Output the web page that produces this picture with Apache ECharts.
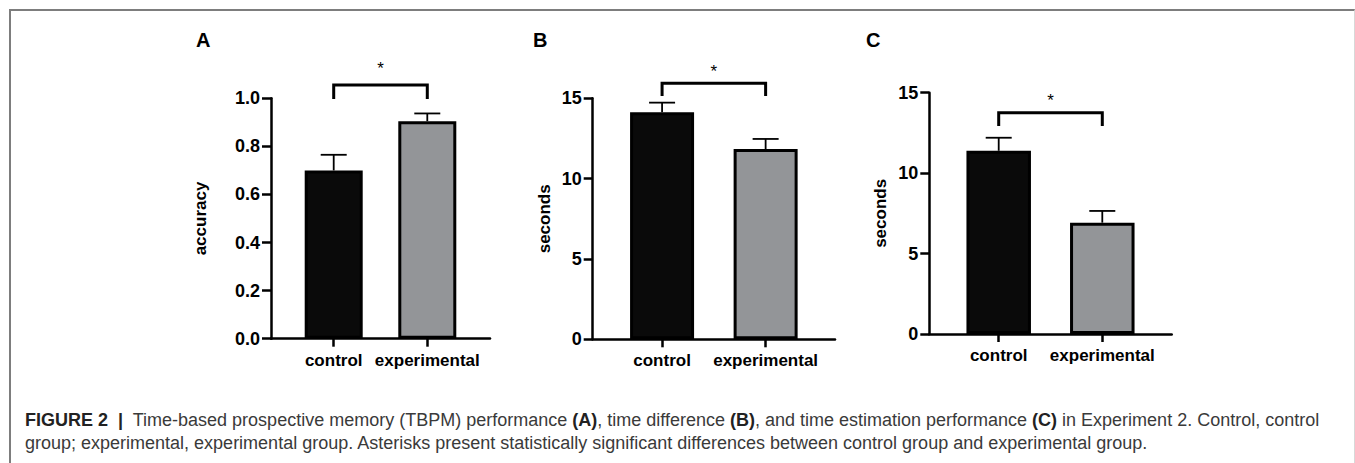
<!DOCTYPE html>
<html>
<head>
<meta charset="utf-8">
<script src="https://cdn.jsdelivr.net/npm/echarts@6/dist/echarts.min.js"></script>
<style>
  html, body { margin: 0; padding: 0; background: #fff; }
  #wrap { position: relative; width: 1355px; height: 463px; overflow: hidden; }
  #frame { position: absolute; left: 9px; top: 9px; width: 1343px; height: 600px;
           border-top: 2px solid #7d7d7d; border-left: 2px solid #7d7d7d; border-right: 1px solid #d8d8d8; }
  #chart { position: absolute; left: 0; top: 0; width: 1355px; height: 463px; }
  #cap { position: absolute; left: 25px; top: 409px; font-family: 'Liberation Sans', Arial, sans-serif;
         font-size: 18px; line-height: 23px; color: #3a3a3a; white-space: nowrap; }
  #cap b { color: #222; }
</style>
</head>
<body>
<div id="wrap">
  <div id="frame"></div>
  <div id="chart"></div>
  <div id="cap"><b>FIGURE 2 &nbsp;|&nbsp;</b> Time-based prospective memory (TBPM) performance <b>(A)</b>, time difference <b>(B)</b>, and time estimation performance <b>(C)</b> in Experiment 2. Control, control<br>group; experimental, experimental group. Asterisks present statistically significant differences between control group and experimental group.</div>
</div>
<script>
// ---- data ----
const categories = ['control', 'experimental'];
const panelLetters = ['A', 'B', 'C'];
const yNames = ['accuracy', 'seconds', 'seconds'];

const accuracyMeans = [0.70, 0.905];
const accuracyErrors = [0.065, 0.032];
const diffMeans = [14.13, 11.84];
const diffErrors = [0.60, 0.63];
const estimationMeans = [11.39, 6.92];
const estimationErrors = [0.81, 0.73];

// y-axis ranges [min, max, interval]
const yRangeA = [0, 1.0, 0.2];
const yRangeB = [0, 15, 5];
const yRangeC = [0, 15, 5];
const yDecimals = [1, 0, 0];

// significance brackets: [fromCat, toCat, bracketTop, legBottom, starY]
const bracketA = [0, 1, 1.055, 0.997, 1.139];
const bracketB = [0, 1, 15.93, 15.14, 16.89];
const bracketC = [0, 1, 13.76, 12.93, 14.75];

// ---- layout / style ----
const FONT = "'Liberation Sans', Arial, Helvetica, sans-serif";
const barColors = ['#0a0a0a', '#939598'];
const panels = [
  { means: accuracyMeans, errors: accuracyErrors, range: yRangeA, bracket: bracketA,
    grid: { left: 271, right: 865, top: 98.3, bottom: 124.3 }, barWidth: 58, nameGap: 62,
    letter: { left: 196, top: 30 } },
  { means: diffMeans, errors: diffErrors, range: yRangeB, bracket: bracketB,
    grid: { left: 592.7, right: 520, top: 98.3, bottom: 123.7 }, barWidth: 64, nameGap: 40,
    letter: { left: 533, top: 30 } },
  { means: estimationMeans, errors: estimationErrors, range: yRangeC, bracket: bracketC,
    grid: { left: 929.3, right: 183.3, top: 92.7, bottom: 129 }, barWidth: 64.5, nameGap: 40,
    letter: { left: 866, top: 30 } }
];

const chart = echarts.init(document.getElementById('chart'), null, { renderer: 'svg' });

const option = {
  backgroundColor: 'transparent',
  animation: false,
  title: panels.map((p, i) => ({
    text: panelLetters[i], left: p.letter.left, top: p.letter.top, padding: 0,
    textStyle: { fontFamily: FONT, fontSize: 20, fontWeight: 'bold', color: '#000' }
  })),
  grid: panels.map(p => Object.assign({ containLabel: false, outerBoundsMode: 'none' }, p.grid)),
  xAxis: panels.map((p, i) => ({
    type: 'value', gridIndex: i, min: -0.67, max: 1.67,
    splitLine: { show: false },
    axisLine: { show: true, onZero: false, lineStyle: { color: '#000', width: 2.5 } },
    axisTick: { show: true, customValues: [0, 1], length: 8, lineStyle: { color: '#000', width: 2.5 } },
    axisLabel: { show: true, customValues: [0, 1], margin: 13,
      formatter: v => categories[Math.round(v)],
      fontFamily: FONT, fontSize: 17, fontWeight: 'bold', color: '#000' }
  })),
  yAxis: panels.map((p, i) => ({
    type: 'value', gridIndex: i, min: p.range[0], max: p.range[1], interval: p.range[2],
    name: yNames[i], nameLocation: 'middle', nameGap: p.nameGap,
    nameTextStyle: { fontFamily: FONT, fontSize: 17, fontWeight: 'bold', color: '#000' },
    splitLine: { show: false },
    axisLine: { show: true, onZero: false, lineStyle: { color: '#000', width: 2.5 } },
    axisTick: { show: true, length: 9, lineStyle: { color: '#000', width: 2.5 } },
    axisLabel: { margin: 11, fontFamily: FONT, fontSize: 18, fontWeight: 'bold', color: '#000',
      formatter: v => v.toFixed(yDecimals[i]) }
  })),
  series: []
};

panels.forEach((p, i) => {
  option.series.push({
    type: 'bar', xAxisIndex: i, yAxisIndex: i, barWidth: p.barWidth, z: 2,
    data: p.means.map((m, j) => ({ value: [j, m], itemStyle: { color: barColors[j] } })),
    itemStyle: { borderColor: '#000', borderWidth: 3 }
  });
  option.series.push({
    type: 'custom', xAxisIndex: i, yAxisIndex: i, z: 3, clip: false,
    encode: { x: 0, y: [1, 2] },
    data: p.means.map((m, j) => [j, m, m + p.errors[j]]),
    renderItem: (params, api) => {
      const x = api.value(0);
      const a = api.coord([x, api.value(1)]);
      const b = api.coord([x, api.value(2)]);
      return { type: 'group', children: [
        { type: 'line', shape: { x1: a[0], y1: a[1], x2: b[0], y2: b[1] }, style: { stroke: '#000', lineWidth: 1.8 } },
        { type: 'line', shape: { x1: b[0] - 13, y1: b[1], x2: b[0] + 13, y2: b[1] }, style: { stroke: '#000', lineWidth: 1.8 } }
      ]};
    }
  });
  option.series.push({
    type: 'custom', xAxisIndex: i, yAxisIndex: i, z: 4, clip: false,
    encode: { x: [0, 1], y: [2, 3, 4] },
    data: [p.bracket],
    renderItem: (params, api) => {
      const x0 = api.value(0), x1 = api.value(1), top = api.value(2), leg = api.value(3), sy = api.value(4);
      const p1 = api.coord([x0, leg]), p2 = api.coord([x0, top]), p3 = api.coord([x1, top]), p4 = api.coord([x1, leg]);
      const s = api.coord([(x0 + x1) / 2, sy]);
      return { type: 'group', children: [
        { type: 'polyline', shape: { points: [p1, p2, p3, p4] },
          style: { stroke: '#000', lineWidth: 3, fill: null, lineJoin: 'miter' } },
        { type: 'text', x: s[0], y: s[1] + 4,
          style: { text: '*', fontFamily: FONT, fontSize: 17, fill: '#000', align: 'center', verticalAlign: 'middle' } }
      ]};
    }
  });
});

chart.setOption(option);
</script>
</body>
</html>
